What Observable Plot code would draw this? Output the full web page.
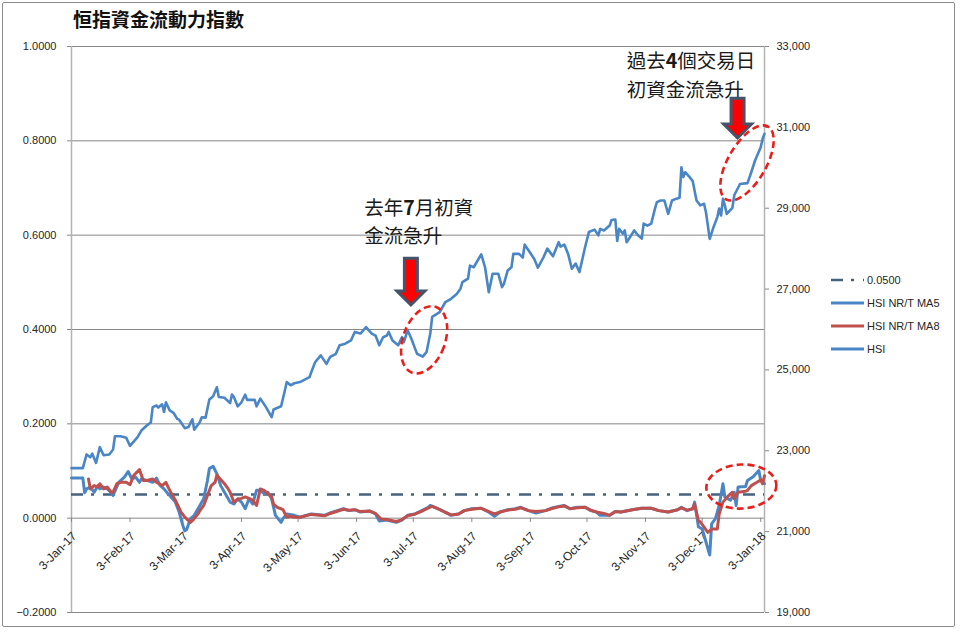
<!DOCTYPE html>
<html><head><meta charset="utf-8">
<script src="https://cdn.jsdelivr.net/npm/d3@7"></script>
<script src="https://cdn.jsdelivr.net/npm/@observablehq/plot@0.6"></script>
<style>
body{margin:0;background:#fff;}
#wrap{position:relative;width:960px;height:633px;overflow:hidden;background:#fff;}
#frame{position:absolute;left:2px;top:2px;width:951px;height:623px;border:1px solid #8c8c8c;border-radius:2px;}
#title{position:absolute;left:73px;top:8px;font:bold 19px/21px "Noto Sans CJK TC";color:#111;}
#chart{position:absolute;left:0;top:36px;}
#legend{position:absolute;left:826px;top:268px;}
</style></head>
<body><div id="wrap"><div id="frame"></div><div id="title">恒指資金流動力指數</div><div id="chart"></div><svg id="legend" width="130" height="95"></svg></div>
<script>
const title = "恒指資金流動力指數";
const seriesNames = ["0.0500","HSI NR/T MA5","HSI NR/T MA8","HSI"];
const threshold = 0.05;
const leftTicks = [-0.2,0,0.2,0.4,0.6,0.8,1.0];
const rightTicks = [19000,21000,23000,25000,27000,29000,31000,33000];
const monthTicks = ["2017-01-03","2017-02-03","2017-03-03","2017-04-03","2017-05-03","2017-06-03","2017-07-03","2017-08-03","2017-09-03","2017-10-03","2017-11-03","2017-12-03","2018-01-03"];
const xDomain = ["2017-01-03","2018-01-05"];

const hsi = [
["2017-01-03",22570],["2017-01-09",22570],["2017-01-11",22910],["2017-01-13",22840],["2017-01-14",22930],["2017-01-16",22700],["2017-01-18",23090],["2017-01-20",22890],["2017-01-23",22910],["2017-01-25",23030],["2017-01-26",23360],["2017-01-29",23360],["2017-02-01",23320],["2017-02-03",23120],["2017-02-07",23340],["2017-02-09",23500],["2017-02-12",23630],["2017-02-14",23700],["2017-02-15",24080],["2017-02-17",24120],["2017-02-18",24070],["2017-02-20",24150],["2017-02-21",23960],["2017-02-22",24200],["2017-02-24",24000],["2017-02-26",23940],["2017-02-28",23790],["2017-03-01",23770],["2017-03-04",23560],["2017-03-06",23590],["2017-03-08",23780],["2017-03-09",23520],["2017-03-12",23710],["2017-03-13",23830],["2017-03-15",23820],["2017-03-17",24270],["2017-03-19",24350],["2017-03-21",24570],["2017-03-22",24330],["2017-03-25",24310],["2017-03-28",24180],["2017-03-29",24390],["2017-03-30",24330],["2017-04-01",24100],["2017-04-03",24200],["2017-04-05",24390],["2017-04-06",24260],["2017-04-10",24260],["2017-04-11",24100],["2017-04-13",24290],["2017-04-16",24080],["2017-04-19",23830],["2017-04-20",24020],["2017-04-24",24100],["2017-04-26",24490],["2017-04-27",24700],["2017-04-29",24620],["2017-05-01",24670],["2017-05-04",24700],["2017-05-09",24820],["2017-05-11",25070],["2017-05-12",25190],["2017-05-15",25360],["2017-05-18",25150],["2017-05-20",25320],["2017-05-23",25400],["2017-05-25",25610],["2017-05-28",25650],["2017-05-31",25730],["2017-06-02",25940],["2017-06-05",25900],["2017-06-08",26060],["2017-06-11",25900],["2017-06-13",25850],["2017-06-15",25610],["2017-06-17",25810],["2017-06-19",25850],["2017-06-20",25940],["2017-06-22",25730],["2017-06-25",25610],["2017-06-27",25810],["2017-06-28",25690],["2017-06-30",25980],["2017-07-02",25770],["2017-07-04",25520],["2017-07-05",25400],["2017-07-08",25330],["2017-07-10",25440],["2017-07-12",25900],["2017-07-13",26310],["2017-07-17",26430],["2017-07-20",26680],["2017-07-23",26760],["2017-07-26",26880],["2017-07-28",27010],["2017-07-29",27170],["2017-08-01",27260],["2017-08-02",27580],["2017-08-04",27540],["2017-08-08",27860],["2017-08-10",27540],["2017-08-12",26920],["2017-08-14",27380],["2017-08-17",27380],["2017-08-19",27050],["2017-08-20",27130],["2017-08-22",27460],["2017-08-24",27540],["2017-08-25",27870],["2017-08-28",27870],["2017-08-30",27780],["2017-08-31",28100],["2017-09-02",27960],["2017-09-05",27750],["2017-09-07",27530],["2017-09-10",27790],["2017-09-12",28000],["2017-09-15",27810],["2017-09-18",28160],["2017-09-19",28050],["2017-09-21",28100],["2017-09-23",27870],["2017-09-25",27500],["2017-09-27",27630],["2017-09-29",27420],["2017-10-02",28040],["2017-10-04",28410],["2017-10-07",28470],["2017-10-09",28330],["2017-10-10",28490],["2017-10-12",28450],["2017-10-15",28570],["2017-10-16",28710],["2017-10-18",28720],["2017-10-19",28190],["2017-10-20",28490],["2017-10-22",28370],["2017-10-23",28450],["2017-10-24",28160],["2017-10-26",28300],["2017-10-28",28450],["2017-10-30",28330],["2017-11-01",28250],["2017-11-02",28620],["2017-11-04",28570],["2017-11-06",28620],["2017-11-08",28990],["2017-11-09",29150],["2017-11-11",29190],["2017-11-13",29190],["2017-11-15",28860],["2017-11-17",29190],["2017-11-19",29230],["2017-11-21",29260],["2017-11-22",30010],["2017-11-23",29770],["2017-11-24",29890],["2017-11-26",29790],["2017-11-28",29670],["2017-11-30",29190],["2017-12-02",29070],["2017-12-04",29110],["2017-12-05",28900],["2017-12-07",28240],["2017-12-09",28530],["2017-12-11",28780],["2017-12-12",28990],["2017-12-13",28820],["2017-12-14",29230],["2017-12-15",29070],["2017-12-16",28860],["2017-12-19",29010],["2017-12-20",29320],["2017-12-23",29600],["2017-12-27",29620],["2017-12-29",29890],["2017-12-31",30180],["2018-01-03",30510],["2018-01-04",30720],["2018-01-05",30840]
];

const ma5 = [
["2017-01-03",0.085],["2017-01-09",0.085],["2017-01-10",0.054],["2017-01-11",0.062],["2017-01-13",0.066],["2017-01-15",0.055],["2017-01-17",0.069],["2017-01-18",0.062],["2017-01-20",0.066],["2017-01-22",0.062],["2017-01-24",0.054],["2017-01-25",0.048],["2017-01-28",0.076],["2017-01-31",0.087],["2017-02-02",0.099],["2017-02-04",0.083],["2017-02-06",0.087],["2017-02-08",0.076],["2017-02-09",0.083],["2017-02-12",0.080],["2017-02-15",0.076],["2017-02-17",0.085],["2017-02-19",0.069],["2017-02-21",0.062],["2017-02-23",0.052],["2017-02-24",0.048],["2017-02-27",0.034],["2017-03-01",0.013],["2017-03-03",-0.016],["2017-03-04",-0.027],["2017-03-05",-0.024],["2017-03-07",-0.001],["2017-03-09",0.006],["2017-03-11",0.020],["2017-03-12",0.027],["2017-03-14",0.041],["2017-03-16",0.080],["2017-03-17",0.105],["2017-03-19",0.110],["2017-03-21",0.094],["2017-03-23",0.069],["2017-03-25",0.055],["2017-03-27",0.041],["2017-03-28",0.034],["2017-03-30",0.030],["2017-04-01",0.041],["2017-04-03",0.034],["2017-04-05",0.020],["2017-04-07",0.041],["2017-04-09",0.030],["2017-04-10",0.045],["2017-04-11",0.059],["2017-04-13",0.059],["2017-04-15",0.052],["2017-04-17",0.055],["2017-04-19",0.041],["2017-04-21",0.006],["2017-04-24",-0.009],["2017-04-25",-0.001],["2017-04-27",0.009],["2017-05-01",0.006],["2017-05-04",0.002],["2017-05-10",0.009],["2017-05-17",0.006],["2017-05-20",0.011],["2017-05-27",0.020],["2017-05-30",0.016],["2017-06-02",0.018],["2017-06-05",0.013],["2017-06-10",0.015],["2017-06-13",0.009],["2017-06-15",-0.006],["2017-06-19",-0.004],["2017-06-24",-0.009],["2017-06-27",-0.004],["2017-06-30",0.006],["2017-07-04",0.009],["2017-07-07",0.015],["2017-07-11",0.023],["2017-07-12",0.027],["2017-07-16",0.020],["2017-07-20",0.013],["2017-07-23",0.006],["2017-07-27",0.009],["2017-07-30",0.016],["2017-08-03",0.020],["2017-08-08",0.021],["2017-08-12",0.013],["2017-08-15",0.004],["2017-08-18",0.013],["2017-08-22",0.018],["2017-08-26",0.020],["2017-08-29",0.023],["2017-09-02",0.016],["2017-09-06",0.011],["2017-09-11",0.016],["2017-09-14",0.021],["2017-09-18",0.025],["2017-09-21",0.027],["2017-09-24",0.020],["2017-09-28",0.023],["2017-10-02",0.023],["2017-10-05",0.016],["2017-10-08",0.013],["2017-10-10",0.006],["2017-10-15",0.006],["2017-10-18",0.014],["2017-10-21",0.013],["2017-10-27",0.018],["2017-11-01",0.021],["2017-11-06",0.021],["2017-11-10",0.016],["2017-11-15",0.013],["2017-11-20",0.018],["2017-11-22",0.023],["2017-11-25",0.016],["2017-11-28",0.020],["2017-11-29",0.034],["2017-12-01",-0.018],["2017-12-03",-0.023],["2017-12-07",-0.078],["2017-12-08",-0.012],["2017-12-10",-0.001],["2017-12-12",0.027],["2017-12-14",0.073],["2017-12-15",0.045],["2017-12-18",0.038],["2017-12-20",0.055],["2017-12-21",0.027],["2017-12-22",0.066],["2017-12-26",0.067],["2017-12-27",0.080],["2017-12-30",0.088],["2018-01-02",0.101],["2018-01-03",0.080],["2018-01-05",0.073]
];

const ma8 = [
["2017-01-12",0.083],["2017-01-13",0.062],["2017-01-15",0.069],["2017-01-17",0.066],["2017-01-18",0.073],["2017-01-20",0.062],["2017-01-22",0.066],["2017-01-24",0.055],["2017-01-25",0.055],["2017-01-27",0.073],["2017-01-29",0.076],["2017-02-01",0.076],["2017-02-03",0.071],["2017-02-05",0.091],["2017-02-08",0.103],["2017-02-10",0.080],["2017-02-12",0.080],["2017-02-15",0.083],["2017-02-17",0.076],["2017-02-20",0.069],["2017-02-22",0.076],["2017-02-24",0.059],["2017-02-25",0.052],["2017-02-27",0.038],["2017-03-02",0.013],["2017-03-04",0.002],["2017-03-07",-0.009],["2017-03-09",-0.001],["2017-03-11",0.009],["2017-03-12",0.016],["2017-03-14",0.027],["2017-03-16",0.048],["2017-03-18",0.069],["2017-03-20",0.076],["2017-03-21",0.091],["2017-03-23",0.082],["2017-03-25",0.073],["2017-03-27",0.062],["2017-03-28",0.055],["2017-03-30",0.034],["2017-04-01",0.040],["2017-04-03",0.042],["2017-04-05",0.045],["2017-04-07",0.042],["2017-04-09",0.038],["2017-04-11",0.027],["2017-04-13",0.062],["2017-04-15",0.059],["2017-04-17",0.052],["2017-04-19",0.045],["2017-04-20",0.030],["2017-04-22",0.023],["2017-04-24",0.020],["2017-04-25",0.018],["2017-04-27",0.002],["2017-04-29",0.004],["2017-05-01",0.002],["2017-05-04",0.002],["2017-05-10",0.008],["2017-05-17",0.005],["2017-05-20",0.010],["2017-05-27",0.019],["2017-05-30",0.017],["2017-06-02",0.018],["2017-06-05",0.014],["2017-06-10",0.015],["2017-06-13",0.010],["2017-06-16",-0.002],["2017-06-19",-0.003],["2017-06-24",-0.007],["2017-06-27",-0.003],["2017-06-30",0.005],["2017-07-04",0.009],["2017-07-07",0.014],["2017-07-11",0.022],["2017-07-13",0.025],["2017-07-16",0.020],["2017-07-20",0.012],["2017-07-23",0.007],["2017-07-27",0.009],["2017-07-30",0.016],["2017-08-03",0.019],["2017-08-08",0.021],["2017-08-12",0.014],["2017-08-15",0.009],["2017-08-18",0.013],["2017-08-22",0.017],["2017-08-26",0.019],["2017-08-29",0.022],["2017-09-02",0.016],["2017-09-06",0.014],["2017-09-11",0.016],["2017-09-14",0.020],["2017-09-18",0.024],["2017-09-21",0.026],["2017-09-24",0.020],["2017-09-28",0.022],["2017-10-02",0.023],["2017-10-05",0.017],["2017-10-08",0.013],["2017-10-12",0.010],["2017-10-15",0.006],["2017-10-18",0.014],["2017-10-21",0.013],["2017-10-27",0.018],["2017-11-01",0.021],["2017-11-06",0.021],["2017-11-10",0.016],["2017-11-15",0.013],["2017-11-20",0.018],["2017-11-22",0.022],["2017-11-25",0.017],["2017-11-28",0.020],["2017-11-29",0.030],["2017-12-01",-0.005],["2017-12-02",-0.008],["2017-12-06",-0.030],["2017-12-08",-0.023],["2017-12-11",-0.023],["2017-12-12",0.009],["2017-12-14",0.034],["2017-12-17",0.048],["2017-12-19",0.055],["2017-12-20",0.041],["2017-12-22",0.055],["2017-12-26",0.057],["2017-12-27",0.059],["2017-12-29",0.069],["2018-01-01",0.076],["2018-01-03",0.081],["2018-01-04",0.073],["2018-01-05",0.090]
];

// annotations anchored in data coordinates: [date, value, text]
const notes = [
  ["2017-06-07", 0.686, "去年7月初資\n金流急升"],
  ["2017-10-24", 0.997, "過去4個交易日\n初資金流急升"]
];
// arrows: [date, top value, tip value]
const arrows = [
  ["2017-07-02", 0.550, 0.451],
  ["2017-12-22", 0.889, 0.805]
];
// ellipses: [date, value]
const rings = [
  ["2017-07-09", 0.377],
  ["2017-12-27", 0.752],
  ["2017-12-24", 0.066]
];

const blue = "#4a86c5", red = "#c0504d", dashBlue = "#44617f", grid = "#878787";
const dashPattern = "12,8,3,9";
const toLeft = v => -0.2 + (v - 19000) / 14000 * 1.2;
const fromLeft = v => 19000 + (v + 0.2) / 1.2 * 14000;
const D = s => new Date(s);
const fmtDate = d3.utcFormat("%-d-%b-%y");

const plot = Plot.plot({
  width: 960, height: 597,
  marginTop: 10, marginBottom: 21, marginLeft: 71, marginRight: 196,
  x: {type: "utc", domain: xDomain.map(D), axis: null},
  y: {domain: [-0.2, 1.0]},
  style: {fontFamily: "'Liberation Sans', Arial, sans-serif", fontSize: "11px", color: "#262626", background: "transparent"},
  marks: [
    Plot.ruleY(leftTicks, {stroke: grid, strokeWidth: 1}),
    Plot.ruleX([D(xDomain[0]), D(xDomain[1])], {stroke: "#b3b3b3", strokeWidth: 1.5}),
    Plot.axisY({anchor: "left", ticks: leftTicks, tickFormat: d3.format(".4f"), tickSize: 4, tickPadding: 11, label: null, stroke: grid, fill: "#262626"}),
    Plot.axisY({anchor: "right", ticks: rightTicks.map(toLeft), tickFormat: v => d3.format(",")(Math.round(fromLeft(v) / 1000) * 1000), tickSize: 4, tickPadding: 8, label: null, stroke: grid, fill: "#262626"}),
    Plot.ruleX(monthTicks.map(D), {y1: 0, y2: -0.009, stroke: grid}),
    Plot.text(monthTicks.map(D), {x: d => d, y: 0, text: d => fmtDate(d), rotate: -45, textAnchor: "end", dx: 3, dy: 16, fontSize: 12, fill: "#262626"}),
    Plot.ruleY([threshold], {stroke: dashBlue, strokeWidth: 2.5, strokeDasharray: dashPattern}),
    Plot.line(ma5, {x: d => D(d[0]), y: d => d[1], stroke: blue, strokeWidth: 3}),
    Plot.line(ma8, {x: d => D(d[0]), y: d => d[1], stroke: red, strokeWidth: 3}),
    Plot.line(hsi, {x: d => D(d[0]), y: d => toLeft(d[1]), stroke: blue, strokeWidth: 2.6}),
    Plot.text(notes, {x: d => D(d[0]), y: d => d[1], text: d => d[2], textAnchor: "start", lineAnchor: "top", lineHeight: 1.46, fontSize: 19.5, fontFamily: "'Noto Sans CJK TC', sans-serif", fill: "#1a1a1a"})
  ]
});
document.getElementById("chart").appendChild(plot);

// digits inside the annotations are bold in the original
d3.select(plot).selectAll("tspan").each(function() {
  const t = this.textContent;
  if (!/\d/.test(t)) return;
  this.textContent = "";
  t.split(/(\d)/).filter(s => s.length).forEach(s => {
    const ts = document.createElementNS("http://www.w3.org/2000/svg", "tspan");
    ts.textContent = s;
    if (/\d/.test(s)) ts.setAttribute("font-weight", "bold");
    this.appendChild(ts);
  });
});

// overlay shapes positioned through the plot's own scales
const sx = plot.scale("x"), sy = plot.scale("y");
const svg = d3.select(plot);
const ringSize = [[21, 35, 20], [19, 42, 30], [35, 22, -3]];
rings.forEach((r, i) => {
  const cx = sx.apply(D(r[0])), cy = sy.apply(r[1]);
  const [rx, ry, rot] = ringSize[i];
  svg.append("ellipse").attr("cx", cx).attr("cy", cy).attr("rx", rx).attr("ry", ry)
    .attr("transform", `rotate(${rot},${cx},${cy})`)
    .attr("fill", "none").attr("stroke", "#e8201c").attr("stroke-width", 2.6).attr("stroke-dasharray", "7,4");
});
arrows.forEach(a => {
  const cx = sx.apply(D(a[0])), top = sy.apply(a[1]), tip = sy.apply(a[2]);
  const hw = 6.5, hh = 14, hl = 14;
  const p = `M${cx-hw},${top}L${cx+hw},${top}L${cx+hw},${tip-hl}L${cx+hh},${tip-hl}L${cx},${tip}L${cx-hh},${tip-hl}L${cx-hw},${tip-hl}Z`;
  svg.append("path").attr("d", p).attr("fill", "#ff0000").attr("stroke", "#44546a").attr("stroke-width", 3).attr("stroke-linejoin", "miter");
});

// legend
const leg = d3.select("#legend");
const legStyle = [
  {stroke: dashBlue, dash: dashPattern, w: 2.5},
  {stroke: blue, dash: null, w: 3},
  {stroke: red, dash: null, w: 3},
  {stroke: blue, dash: null, w: 3}
];
seriesNames.forEach((n, i) => {
  const y = 12 + i * 23;
  leg.append("line").attr("x1", 5).attr("x2", 38).attr("y1", y).attr("y2", y)
    .attr("stroke", legStyle[i].stroke).attr("stroke-width", legStyle[i].w)
    .attr("stroke-dasharray", legStyle[i].dash);
  leg.append("text").attr("x", 41).attr("y", y).attr("dy", "0.35em")
    .attr("font-family", "'Liberation Sans', Arial, sans-serif").attr("font-size", 11).attr("fill", "#262626").text(n);
});
</script></body></html>
